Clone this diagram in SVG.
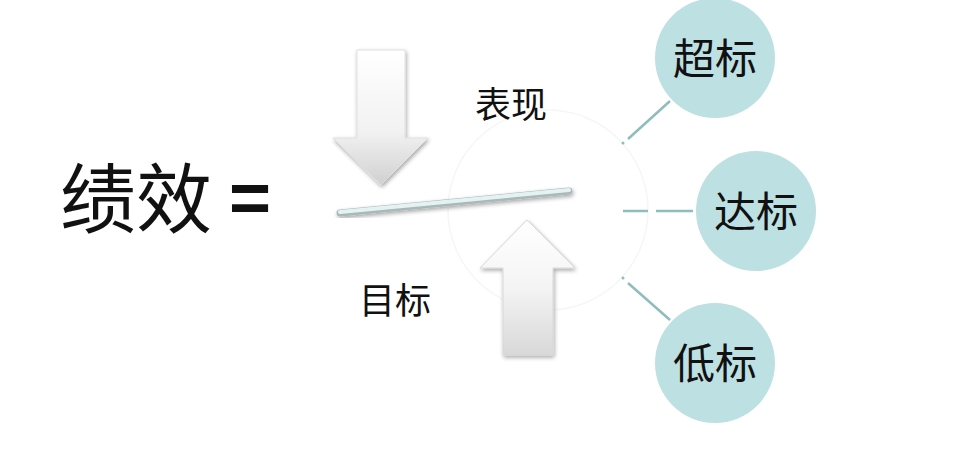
<svg xmlns="http://www.w3.org/2000/svg" width="980" height="460" viewBox="0 0 980 460">
<defs>
<linearGradient id="arrowGrad" x1="0" y1="0" x2="0" y2="1">
<stop offset="0" stop-color="#ffffff"/>
<stop offset="0.6" stop-color="#f2f2f2"/>
<stop offset="1" stop-color="#d0d0d0"/>
</linearGradient>
<linearGradient id="arrowGradUp" x1="0" y1="1" x2="0" y2="0">
<stop offset="0" stop-color="#d8d8d8"/>
<stop offset="0.5" stop-color="#f4f4f4"/>
<stop offset="1" stop-color="#ffffff"/>
</linearGradient>
<filter id="shadow" x="-20%" y="-20%" width="140%" height="140%">
<feGaussianBlur in="SourceAlpha" stdDeviation="2"/>
<feOffset dx="1" dy="2" result="b"/>
<feComponentTransfer><feFuncA type="linear" slope="0.35"/></feComponentTransfer>
<feMerge><feMergeNode/><feMergeNode in="SourceGraphic"/></feMerge>
</filter>
</defs>
<style>
.t{font-family:"Liberation Sans","Noto Sans CJK SC",sans-serif;fill:#111}
.node circle{fill:#bde0e2}
.conn{stroke:#8fbcbc;stroke-width:2.5;fill:none}
</style>
<rect width="980" height="460" fill="#ffffff"/>
<circle cx="548" cy="210" r="100" fill="none" stroke="#f6f6f6" stroke-width="1.5"/>
<g id="formula">
<text class="t" x="60" y="227" font-size="76">绩效</text>
<text class="t" x="229" y="222" font-size="72" font-weight="bold">=</text>
</g>
<g id="arrow-down" filter="url(#shadow)">
<path d="M357,50 H405 V138 H428 L381,185 L333,138 H357 Z" fill="url(#arrowGrad)" stroke="#e0e0e0" stroke-width="1"/>
</g>
<g id="arrow-up" filter="url(#shadow)">
<path d="M503,355 H553 V268 H575 L527,220 L480,268 H503 Z" fill="url(#arrowGradUp)" stroke="#d8d8d8" stroke-width="1"/>
</g>
<g id="beam" filter="url(#shadow)">
<line x1="340" y1="213" x2="569" y2="191" stroke="#a9b9b9" stroke-width="7" stroke-linecap="round"/>
<line x1="340" y1="212" x2="569" y2="190" stroke="#e4f2f2" stroke-width="4" stroke-linecap="round"/>
</g>
<g id="label-biaoxian"><text class="t" x="475" y="118" font-size="36">表现</text></g>
<g id="label-mubiao"><text class="t" x="359" y="314" font-size="36">目标</text></g>
<g id="connectors">
<circle cx="623" cy="143" r="1.5" fill="#8fbcbc"/>
<line class="conn" x1="628" y1="139" x2="670" y2="101"/>
<line class="conn" x1="623" y1="211" x2="648" y2="211"/>
<line class="conn" x1="656" y1="211" x2="693" y2="211"/>
<circle cx="623" cy="278" r="1.5" fill="#8fbcbc"/>
<line class="conn" x1="628" y1="283" x2="670" y2="320"/>
</g>
<g id="node-chaobiao" class="node">
<circle cx="715" cy="58" r="60"/>
<text class="t" x="715" y="74" font-size="42" text-anchor="middle">超标</text>
</g>
<g id="node-dabiao" class="node">
<circle cx="756" cy="211" r="60"/>
<text class="t" x="756" y="227" font-size="42" text-anchor="middle">达标</text>
</g>
<g id="node-dibiao" class="node">
<circle cx="715" cy="363" r="60"/>
<text class="t" x="715" y="379" font-size="42" text-anchor="middle">低标</text>
</g>
</svg>
